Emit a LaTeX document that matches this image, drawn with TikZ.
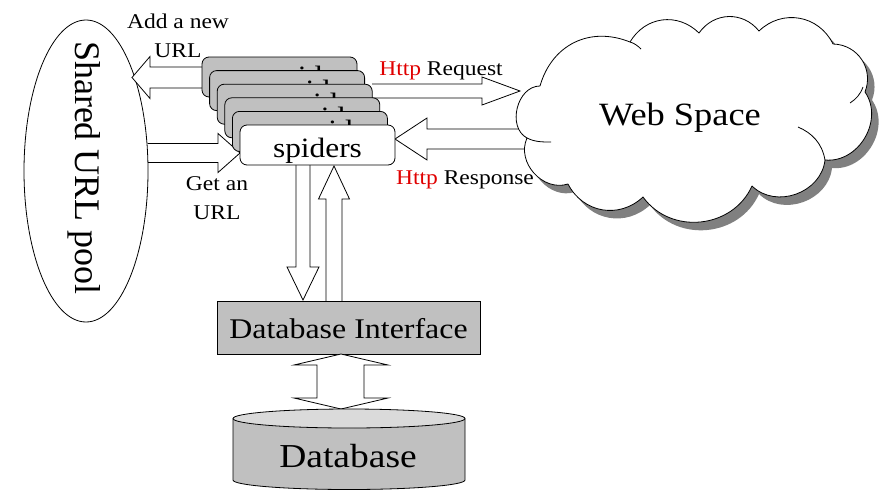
\documentclass[tikz,border=0pt]{standalone}
\usepackage{fontspec}
\setmainfont{Liberation Serif}[FakeStretch=1.12]
\newfontfamily\poolfont{Liberation Serif}
\usetikzlibrary{shapes.geometric}
\definecolor{boxgray}{HTML}{C0C0C0}
\definecolor{topgray}{HTML}{DADADA}
\definecolor{shadowgray}{HTML}{808080}
\definecolor{httpred}{HTML}{E00000}
\newcommand\hblock[6]{%
  \pgfmathsetmacro\hbB{#2-sign(#2-#1)*#6}%
  \filldraw[blockarrow] (#1,#3-#4) -- (\hbB,#3-#4) -- (\hbB,#3-#5) -- (#2,#3) -- (\hbB,#3+#5) -- (\hbB,#3+#4) -- (#1,#3+#4);}
\newcommand\vblock[6]{%
  \pgfmathsetmacro\vbB{#2-sign(#2-#1)*#6}%
  \filldraw[blockarrow] (#3-#4,#1) -- (#3-#4,\vbB) -- (#3-#5,\vbB) -- (#3,#2) -- (#3+#5,\vbB) -- (#3+#4,\vbB) -- (#3+#4,#1);}
\newcommand\cloudpath{(540,86) to[puff=48] (630,42) to[puff=52] (699,33) to[puff=53] (759,31)
  to[puff=54] (833,44) to[puff=55] (865,92) to[puff=65] (825,160) to[puff=64] (752,186)
  to[puff=60] (643,197) to[puff=53] (568,184) to[puff=66] (527,138) to[puff=76] (540,86) -- cycle}
\begin{document}
\begin{tikzpicture}[x=1pt,y=-1pt,line width=0.8pt,
  blockarrow/.style={fill=white,draw=black,line join=miter},
  puff/.style={bend left=#1,looseness=1.1},
  spiderbox/.style={draw,fill=boxgray,rounded corners=7pt,minimum width=155pt,minimum height=40pt,inner sep=0pt,outer sep=0pt,font=\fontsize{28}{30}\selectfont,text height=30pt,text depth=6pt,anchor=north west},
  lbl/.style={font=\fontsize{21}{29}\selectfont,align=center,inner sep=0pt}]
\useasboundingbox (0,0) rectangle (896,496);
% URL pool
\hblock{147.6}{240}{153}{9.5}{19.5}{22}
\node[ellipse,draw,fill=white,minimum width=124pt,minimum height=302pt,inner sep=0pt,outer sep=0pt] (pool) at (86,171) {};
\node[rotate=-90,font=\poolfont\fontsize{36}{36}\selectfont,inner sep=0pt] (poolname) at (84,168) {Shared URL pool};
\hblock{203}{132}{77.5}{10.5}{21}{18}
% web space
\hblock{530}{395}{139}{10}{21}{32}
\fill[shadowgray,shift={(7,8)}] \cloudpath;
\filldraw[fill=white,line join=round] \cloudpath;
\draw (825,160) .. controls (822,143) and (812,133) .. (798,127);
\draw (863,87) .. controls (860,95) and (856,99) .. (850,103);
\draw (527,138) .. controls (535,142) and (542,142) .. (551,142);
\draw (630,42) .. controls (634,43) and (638,46) .. (641,49);
\node[font=\fontsize{32.5}{34}\selectfont,anchor=base,inner sep=0pt] (webname) at (680,125) {Web Space};
\hblock{372}{520}{91}{7}{14}{38}
% vertical arrows
\vblock{160}{300}{303}{7}{16}{33}
\vblock{305}{166}{334}{8}{15.5}{33}
% spiders
\foreach \k in {0,...,4}
  \node[spiderbox] (sp\k) at (202+7.6*\k,57+13.6*\k) {\makebox[0pt]{\hspace{70pt}\raisebox{3.5pt}{spiders}}};
\node[spiderbox,fill=white] (spiders) at (240,125) {spiders};
% database interface
\node[draw,fill=boxgray,minimum width=263pt,minimum height=53pt,inner sep=0pt,outer sep=0pt,
  font=\fontsize{28.5}{30}\selectfont,text height=28pt,text depth=7pt] (dbi) at (348.5,327.5) {Database Interface};
\filldraw[blockarrow] (341,354) -- (388,365) -- (364,365) -- (364,398) -- (388,398) -- (341,409)
  -- (294,398) -- (317,398) -- (317,365) -- (294,365) -- cycle;
% database
\filldraw[fill=boxgray] (233,418.5) -- (233,480) arc[start angle=180,end angle=0,x radius=116,y radius=9.5] -- (465,418.5);
\filldraw[fill=topgray] (349,418.5) ellipse[x radius=116,y radius=9.5];
\node[font=\fontsize{33.5}{35}\selectfont,anchor=base,inner sep=0pt] (db) at (348,467) {Database};
% labels
\node[lbl] (addurl) at (178,36) {Add a new\\URL};
\node[lbl] (geturl) at (217,198) {Get an\\URL};
\node[lbl,anchor=base] (req) at (441,75) {\textcolor{httpred}{Http} Request};
\node[lbl,anchor=base] (resp) at (465,184) {\textcolor{httpred}{Http} Response};
\end{tikzpicture}
\end{document}
